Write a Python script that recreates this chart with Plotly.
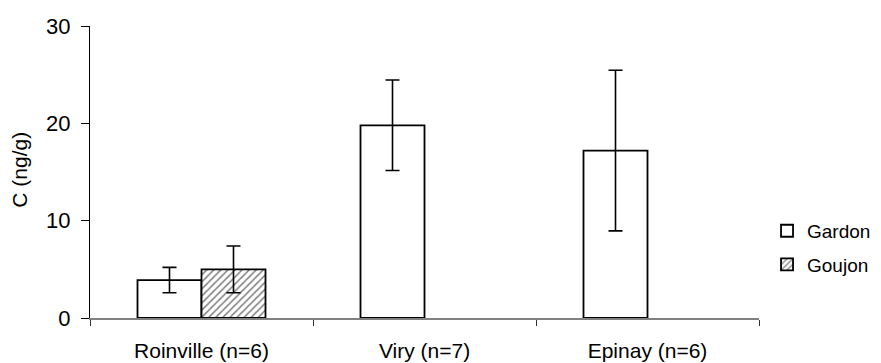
import plotly.graph_objects as go

categories = ["Roinville (n=6)", "Viry (n=7)", "Epinay (n=6)"]
gardon = [3.9, 19.8, 17.2]
gardon_err = [1.3, 4.65, 8.25]
goujon = [5.0, None, None]
goujon_err = [2.4, None, None]
y_ticks = [0, 10, 20, 30]

FONT = "Liberation Sans, Arial, sans-serif"

fig = go.Figure()
fig.add_trace(go.Bar(
    name="Gardon", x=categories, y=gardon, legendgroup="a",
    marker=dict(color="white", line=dict(color="black", width=1.8)),
    error_y=dict(type="data", array=gardon_err, visible=True,
                 color="black", thickness=1.6, width=7),
))
fig.add_trace(go.Bar(
    name="Goujon", x=categories, y=goujon, legendgroup="b",
    marker=dict(color="white", line=dict(color="black", width=1.8),
                pattern=dict(shape="/", fgcolor="black", bgcolor="white",
                             size=5, solidity=0.3)),
    error_y=dict(type="data", array=goujon_err, visible=True,
                 color="black", thickness=1.6, width=7),
))

fig.add_annotation(
    text="C (ng/g)", xref="paper", yref="paper",
    x=-0.105, y=0.507, xanchor="center", yanchor="middle",
    textangle=-90, showarrow=False, font=dict(size=21, family=FONT),
)

fig.update_layout(
    width=873, height=355,
    margin=dict(l=82, r=122, t=18, b=45, autoexpand=False),
    paper_bgcolor="white", plot_bgcolor="white",
    barmode="group", bargap=0.426, bargroupgap=0,
    font=dict(family=FONT, size=20, color="black"),
    showlegend=True,
    legend=dict(x=1.012, y=0.24, xanchor="left", yanchor="middle",
                font=dict(size=19), bgcolor="rgba(0,0,0,0)",
                tracegroupgap=6, itemwidth=30),
    xaxis=dict(range=[-0.5, 2.5], showgrid=False, showline=True,
               linecolor="#808080", linewidth=1.5, ticks="outside",
               tickson="boundaries", ticklen=6, tickcolor="#333333",
               tickfont=dict(size=21), automargin=False,
               ticklabelstandoff=13),
    yaxis=dict(range=[0, 30], tickvals=y_ticks, showgrid=False,
               showline=True, linecolor="black", linewidth=1,
               ticks="outside", ticklen=8, tickcolor="black",
               zeroline=False, tickfont=dict(size=22), automargin=False,
               ticklabelstandoff=6),
)

fig.write_html("out.html")
